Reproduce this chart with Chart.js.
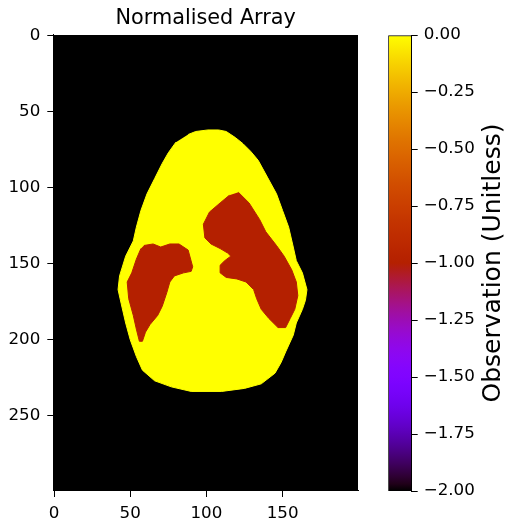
<!DOCTYPE html>
<html>
<head>
<meta charset="utf-8">
<script src="https://cdn.jsdelivr.net/npm/chart.js@4/dist/chart.umd.min.js"></script>
<style>
    body { margin: 0; background: #fff; }
    #wrap { position: relative; width: 506px; height: 522px; overflow: hidden; }
    #mainBox { position: absolute; left: 0; top: 0; width: 370px; height: 522px; }
    #cbarBox { position: absolute; left: 370px; top: 0; width: 136px; height: 522px; }
    #cbLabel {
        position: absolute; left: 292px; top: 248px; width: 400px; height: 30px;
        line-height: 30px; text-align: center; font: 25px "DejaVu Sans";
        color: #000; transform: rotate(-90deg);
    }
</style>
</head>
<body>
<div id="wrap">
    <div id="mainBox"><canvas id="mainChart"></canvas></div>
    <div id="cbarBox"><canvas id="cbarChart"></canvas></div>
    <div id="cbLabel">Observation (Unitless)</div>
</div>
<script>
// array size (columns x rows) and tick labels
const nCols = 200;
const nRows = 300;
const xTicks = [0, 50, 100, 150];
const yTicks = [0, 50, 100, 150, 200, 250];
const cbTicks = [0, -0.25, -0.5, -0.75, -1, -1.25, -1.5, -1.75, -2];

// region values
const backgroundValue = -2;
const bodyValue = 0;
const lungValue = -1;

// body outline (column, row)
const bodyX = [88, 93, 101, 108, 113, 119, 124, 129, 134, 140, 146, 150, 154, 157, 159, 163, 166, 165, 163, 159, 157, 152, 149, 145, 136, 125, 110, 90, 77, 66, 58, 54, 50, 47, 44, 42, 43, 47, 52, 54, 57, 61, 66, 71, 75, 80];
const bodyY = [65, 63, 62, 62, 63, 67, 71, 76, 82, 93, 104, 115, 126, 139, 148, 156, 167, 174, 180, 189, 197, 208, 215, 222, 229, 232, 234, 234, 231, 227, 220, 211, 200, 189, 176, 167, 158, 145, 135, 126, 115, 104, 94, 84, 77, 70];

// left lung outline
const leftLungX = [59, 65, 70, 76, 82, 88, 91, 90, 85, 79, 76, 74, 71, 68, 63, 60, 58, 56, 54, 52, 49, 48, 51, 54, 57];
const leftLungY = [138, 137, 139, 137, 137, 141, 152, 155, 156, 158, 162, 169, 178, 184, 190, 195, 201, 201, 193, 184, 173, 162, 156, 147, 140];

// right lung outline
const rightLungX = [121, 128, 135, 139, 146, 151, 156, 159, 160, 158, 155, 152, 147, 141, 136, 133, 131, 126, 120, 113, 109, 109, 112, 116, 114, 109, 103, 99, 98, 102, 109, 115];
const rightLungY = [103, 110, 121, 129, 138, 145, 154, 162, 171, 180, 186, 192, 192, 186, 180, 173, 167, 162, 160, 159, 156, 151, 148, 145, 143, 140, 137, 133, 124, 116, 110, 105];

const vMin = -2;
const vMax = 0;

// matplotlib "gnuplot" colormap
function gnuplot(t) {
    t = Math.min(1, Math.max(0, t));
    let r = Math.sqrt(t);
    let g = t * t * t;
    let b = Math.max(0, Math.sin(2 * Math.PI * t));
    return 'rgb(' + Math.round(r * 255) + ',' + Math.round(g * 255) + ',' + Math.round(b * 255) + ')';
}
function valueColor(v) {
    return gnuplot((v - vMin) / (vMax - vMin));
}

function toPoints(xs, ys) {
    let pts = [];
    for (let i = 0; i < xs.length; i++) {
        pts.push({x: xs[i], y: ys[i]});
    }
    return pts;
}

function region(xs, ys, value, order) {
    let c = valueColor(value);
    return {
        data: toPoints(xs, ys),
        showLine: true,
        fill: 'shape',
        backgroundColor: c,
        borderColor: c,
        borderWidth: 1,
        pointRadius: 0,
        tension: 0,
        order: order
    };
}

Chart.defaults.font.family = '"DejaVu Sans"';
Chart.defaults.color = '#000';

const lo = -0.5;
const bgX = [lo, nCols + lo, nCols + lo, lo];
const bgY = [lo, lo, nRows + lo, nRows + lo];

const mainChart = new Chart(document.getElementById('mainChart').getContext('2d'), {
    type: 'scatter',
    data: {
        datasets: [
            region(bgX, bgY, backgroundValue, 3),
            region(bodyX, bodyY, bodyValue, 2),
            region(leftLungX, leftLungY, lungValue, 1),
            region(rightLungX, rightLungY, lungValue, 1)
        ]
    },
    options: {
        responsive: true,
        maintainAspectRatio: false,
        animation: false,
        layout: {padding: {left: 0, right: 12, top: 0, bottom: 0}},
        plugins: {
            legend: {display: false},
            tooltip: {enabled: false},
            title: {
                display: true,
                fullSize: false,
                text: 'Normalised Array',
                font: {size: 20.8, weight: 'normal'},
                padding: {top: 6, bottom: 4}
            }
        },
        scales: {
            x: {
                type: 'linear',
                min: lo,
                max: nCols + lo,
                afterBuildTicks: function (scale) {
                    scale.ticks = xTicks.map(v => ({value: v}));
                },
                afterFit: function (scale) { scale.height = 31; },
                ticks: {font: {size: 16.7}, padding: 7, maxRotation: 0, callback: v => String(v)},
                grid: {drawOnChartArea: false, tickLength: 6, color: '#000'},
                border: {color: '#000'}
            },
            y: {
                type: 'linear',
                reverse: true,
                min: lo,
                max: nRows + lo,
                afterBuildTicks: function (scale) {
                    scale.ticks = yTicks.map(v => ({value: v}));
                },
                afterFit: function (scale) { scale.width = 53.3; },
                ticks: {font: {size: 16.7}, padding: 7, callback: v => String(v)},
                grid: {drawOnChartArea: false, tickLength: 6, color: '#000'},
                border: {color: '#000'}
            }
        }
    }
});

// colour bar
function cbGradient(context) {
    let area = context.chart.chartArea;
    if (!area) return '#000';
    let g = context.chart.ctx.createLinearGradient(0, area.bottom, 0, area.top);
    for (let i = 0; i <= 64; i++) {
        g.addColorStop(i / 64, gnuplot(i / 64));
    }
    return g;
}

const cbarChart = new Chart(document.getElementById('cbarChart').getContext('2d'), {
    type: 'bar',
    data: {
        labels: ['cb'],
        datasets: [{
            data: [[vMin, vMax]],
            backgroundColor: cbGradient,
            borderColor: '#000',
            borderWidth: 1,
            borderSkipped: false,
            barPercentage: 1,
            categoryPercentage: 1
        }]
    },
    options: {
        responsive: true,
        maintainAspectRatio: false,
        animation: false,
        layout: {padding: {left: 18.3, right: 0, top: 35, bottom: 31}},
        plugins: {
            legend: {display: false},
            tooltip: {enabled: false}
        },
        scales: {
            x: {display: false},
            y: {
                position: 'right',
                min: vMin,
                max: vMax,
                afterBuildTicks: function (scale) {
                    scale.ticks = cbTicks.map(v => ({value: v}));
                },
                afterFit: function (scale) { scale.width = 94.3; },
                ticks: {
                    font: {size: 16.7},
                    padding: 6,
                    callback: v => v.toFixed(2).replace('-', '\u2212')
                },
                grid: {drawOnChartArea: false, tickLength: 6, color: '#000'},
                border: {color: '#000'}
            }
        }
    }
});
</script>
</body>
</html>
